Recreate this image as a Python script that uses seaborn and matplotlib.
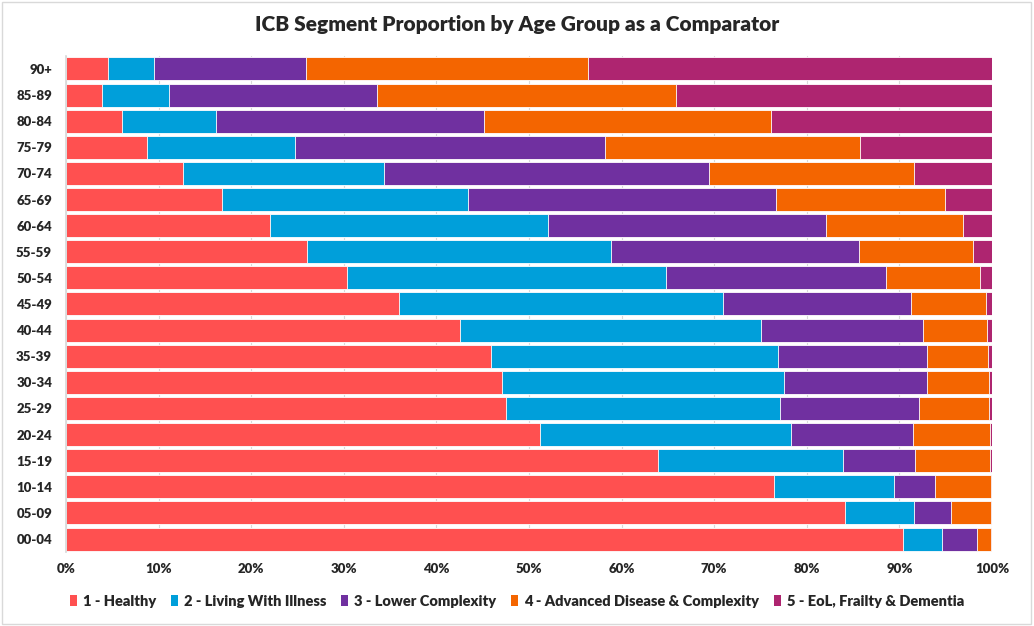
import pandas as pd
import seaborn as sns
import matplotlib.pyplot as plt
from matplotlib.patches import Patch, Rectangle
from matplotlib.ticker import PercentFormatter

# age bands, top of chart first
ages = ['90+', '85-89', '80-84', '75-79', '70-74', '65-69', '60-64', '55-59', '50-54',
        '45-49', '40-44', '35-39', '30-34', '25-29', '20-24', '15-19', '10-14', '05-09', '00-04']

# percentage of each age band in each segment
healthy = [4.5, 3.9, 6.1, 8.8, 12.6, 16.8, 22.0, 26.0, 30.4, 36.0,
           42.6, 45.9, 47.1, 47.5, 51.2, 63.9, 76.5, 84.1, 90.4]
living_with_illness = [5.0, 7.2, 10.1, 15.9, 21.7, 26.6, 30.0, 32.9, 34.4, 35.0,
                       32.4, 31.0, 30.4, 29.6, 27.1, 20.0, 12.9, 7.5, 4.2]
lower_complexity = [16.4, 22.5, 28.9, 33.5, 35.1, 33.3, 30.1, 26.7, 23.8, 20.2,
                    17.5, 16.1, 15.5, 15.0, 13.2, 7.8, 4.4, 4.0, 3.8]
advanced_disease = [30.5, 32.3, 31.0, 27.5, 22.2, 18.2, 14.8, 12.3, 10.1, 8.1,
                    7.0, 6.6, 6.7, 7.6, 8.3, 8.1, 6.1, 4.3, 1.5]
eol_frailty = [43.6, 34.1, 23.9, 14.3, 8.4, 5.1, 3.1, 2.1, 1.3, 0.7,
               0.5, 0.4, 0.3, 0.3, 0.2, 0.2, 0.1, 0.1, 0.1]

segments = ['1 - Healthy', '2 - Living With Illness', '3 - Lower Complexity',
            '4 - Advanced Disease & Complexity', '5 - EoL, Frailty & Dementia']
colours = ['#FF5050', '#009FDA', '#7030A0', '#F46500', '#AE2570']

df = pd.DataFrame({'age': ages})
for seg, vals in zip(segments, [healthy, living_with_illness, lower_complexity,
                                advanced_disease, eol_frailty]):
    df[seg] = vals

# cumulative share, drawn longest first so each segment sits on top of the next
cum = df[segments].cumsum(axis=1).div(df[segments].sum(axis=1), axis=0)

sns.set_theme(style='white')
plt.rcParams['font.family'] = ['Lato', 'DejaVu Sans']

fig = plt.figure(figsize=(10.34, 6.26), dpi=100)
ax = fig.add_axes([0.0638, 0.1181, 0.8956, 0.7926])

for seg, col in reversed(list(zip(segments, colours))):
    sns.barplot(x=cum[seg], y=df['age'], orient='y', color=col, saturation=1,
                width=0.88, errorbar=None, edgecolor='white', linewidth=0.6, ax=ax)

ax.set_xlim(0, 1)
ax.set_xticks([i / 10 for i in range(11)])
ax.xaxis.set_major_formatter(PercentFormatter(1, decimals=0))
ax.set_xlabel('')
ax.set_ylabel('')
ax.grid(axis='x', color='#d9d9d9', linewidth=0.8)
ax.set_axisbelow(True)
for side in ['top', 'right', 'bottom']:
    ax.spines[side].set_visible(False)
ax.spines['left'].set_color('#d9d9d9')
ax.tick_params(axis='y', length=0, pad=10, labelsize=9.5)
ax.tick_params(axis='x', length=0, pad=8, labelsize=9.5)
for lab in ax.get_xticklabels() + ax.get_yticklabels():
    lab.set_fontweight('heavy')

fig.text(0.5, 1 - 25 / 626, 'ICB Segment Proportion by Age Group as a Comparator',
         ha='center', va='center', fontsize=15, fontweight='heavy')

handles = [Patch(facecolor=c, edgecolor='none') for c in colours]
fig.legend(handles, segments, loc='center', bbox_to_anchor=(0.5, 1 - 601 / 626),
           ncol=5, frameon=False, handlelength=0.5, handleheight=0.75,
           handletextpad=0.4, columnspacing=1.0,
           prop={'size': 10.5, 'weight': 'heavy'})

fig.patches.append(Rectangle((0.002, 0.003), 0.995, 0.994, transform=fig.transFigure,
                             fill=False, edgecolor='#d9d9d9', linewidth=1))

fig.savefig('out.png', dpi=100)
